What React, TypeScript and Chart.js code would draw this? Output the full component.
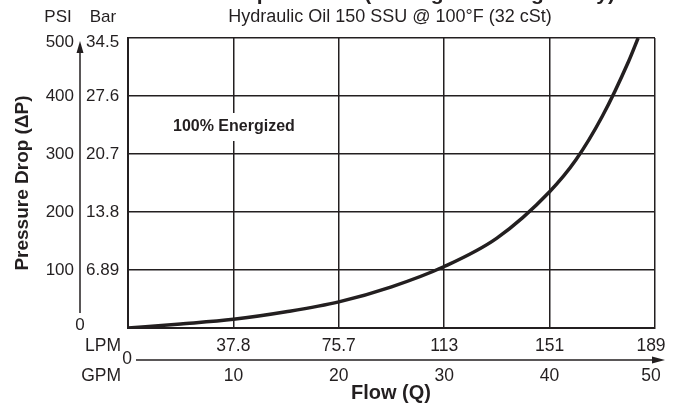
import React, { useEffect, useRef } from "react";
import { Chart, registerables } from "chart.js";

Chart.register(...registerables);

const flowGpm = [0, 5, 10, 15, 20, 25, 30, 35, 40, 42.5, 45, 47.5, 48.4];
const pressurePsi = [0, 7, 15, 28, 45, 71, 106, 155, 235, 290, 365, 460, 500];

const psiTicks = [0, 100, 200, 300, 400, 500];
const barTicks = ["", "6.89", "13.8", "20.7", "27.6", "34.5"];
const gpmTicks = [0, 10, 20, 30, 40, 50];
const gpmLabels = ["", "10", "20", "30", "40", "50"];
const lpmLabels = ["", "37.8", "75.7", "113", "151", "189"];

const titleText = "Pressure Drop vs. Flow (Through Cartridge Only)";
const subtitleText = "Hydraulic Oil 150 SSU @ 100°F (32 cSt)";
const noteText = "100% Energized";

const FONT = "'Liberation Sans', Arial, Helvetica, sans-serif";
const INK = "#231f20";

const labelsPlugin = {
  id: "labelsPlugin",
  afterDraw(chart: any) {
    const ctx = chart.ctx as CanvasRenderingContext2D;
    const xs = chart.scales.x;
    const ys = chart.scales.y;
    const area = chart.chartArea;
    ctx.save();
    ctx.fillStyle = INK;
    ctx.strokeStyle = INK;

    // Cut-off title at top
    ctx.font = `bold 21px ${FONT}`;
    ctx.textAlign = "center";
    ctx.textBaseline = "alphabetic";
    ctx.fillText(titleText, 370, 0);

    // Subtitle
    ctx.font = `18px ${FONT}`;
    ctx.textBaseline = "middle";
    ctx.fillText(subtitleText, 390, 17);

    // PSI / Bar headers
    ctx.font = `17px ${FONT}`;
    ctx.textAlign = "center";
    ctx.fillText("PSI", 58, 17);
    ctx.fillText("Bar", 103, 17);

    // Y tick labels
    psiTicks.forEach((v, i) => {
      const py = ys.getPixelForValue(v);
      const yy = i === psiTicks.length - 1 ? py + 4 : py;
      if (i === 0) {
        ctx.textAlign = "center";
        ctx.fillText(String(v), 80, py - 3);
      } else {
        ctx.textAlign = "right";
        ctx.fillText(String(v), 74, yy);
      }
      if (barTicks[i]) {
        ctx.textAlign = "left";
        ctx.fillText(barTicks[i], 86, yy);
      }
    });

    // Y arrow
    const ax = 80;
    ctx.lineWidth = 1.5;
    ctx.beginPath();
    ctx.moveTo(ax, ys.getPixelForValue(0) - 15);
    ctx.lineTo(ax, area.top + 12);
    ctx.stroke();
    ctx.beginPath();
    ctx.moveTo(ax, area.top + 3);
    ctx.lineTo(ax - 3.5, area.top + 15);
    ctx.lineTo(ax + 3.5, area.top + 15);
    ctx.closePath();
    ctx.fill();

    // Y title
    ctx.save();
    ctx.translate(23, 183);
    ctx.rotate(-Math.PI / 2);
    ctx.font = `bold 19px ${FONT}`;
    ctx.textAlign = "center";
    ctx.textBaseline = "middle";
    ctx.fillText("Pressure Drop (\u0394P)", 0, 0);
    ctx.restore();

    // Note with white background
    ctx.font = `bold 16px ${FONT}`;
    const nw = ctx.measureText(noteText).width;
    ctx.fillStyle = "#ffffff";
    ctx.fillRect(171, 113, nw + 5, 28);
    ctx.fillStyle = INK;
    ctx.textAlign = "left";
    ctx.textBaseline = "middle";
    ctx.fillText(noteText, 173, 127);

    // X labels
    ctx.font = `17.5px ${FONT}`;
    ctx.textAlign = "center";
    gpmTicks.forEach((v, i) => {
      const px = xs.getPixelForValue(v);
      const xx = i === gpmTicks.length - 1 ? px - 4 : px;
      if (lpmLabels[i]) ctx.fillText(lpmLabels[i], xx, 346);
      if (gpmLabels[i]) ctx.fillText(gpmLabels[i], xx, 376);
    });
    ctx.textAlign = "right";
    ctx.fillText("LPM", 121, 346);
    ctx.fillText("GPM", 121, 376);
    ctx.textAlign = "center";
    ctx.fillText("0", 127, 359);

    // X arrow
    const ay = 360;
    ctx.lineWidth = 1.5;
    ctx.beginPath();
    ctx.moveTo(136, ay);
    ctx.lineTo(656, ay);
    ctx.stroke();
    ctx.beginPath();
    ctx.moveTo(665, ay);
    ctx.lineTo(652, ay - 3.5);
    ctx.lineTo(652, ay + 3.5);
    ctx.closePath();
    ctx.fill();

    // X title
    ctx.font = `bold 20px ${FONT}`;
    ctx.textAlign = "center";
    ctx.fillText("Flow (Q)", 391, 393);

    ctx.restore();
  },
};

export default function App() {
  const ref = useRef<HTMLCanvasElement | null>(null);
  useEffect(() => {
    if (!ref.current) return;
    const chart = new Chart(ref.current, {
      type: "line",
      data: {
        datasets: [
          {
            data: flowGpm.map((x, i) => ({ x, y: pressurePsi[i] })),
            borderColor: INK,
            borderWidth: 3.5,
            pointRadius: 0,
            cubicInterpolationMode: "monotone",
            fill: false,
          },
        ],
      },
      options: {
        animation: false,
        responsive: false,
        events: [],
        layout: { padding: { left: 128, right: 22, top: 38, bottom: 76 } },
        plugins: { legend: { display: false }, tooltip: { enabled: false } },
        scales: {
          x: {
            type: "linear",
            min: 0,
            max: 50,
            ticks: { display: false, stepSize: 10 },
            grid: { color: INK, lineWidth: 1.5, drawTicks: false },
            border: { display: true, color: INK, width: 2 },
          },
          y: {
            type: "linear",
            min: 0,
            max: 500,
            ticks: { display: false, stepSize: 100 },
            grid: { color: INK, lineWidth: 1.5, drawTicks: false },
            border: { display: true, color: INK, width: 2 },
          },
        },
      },
      plugins: [labelsPlugin],
    });
    return () => chart.destroy();
  }, []);
  return (
    <div style={{ position: "absolute", left: 0, top: 0, width: 677, height: 404, background: "#fff" }}>
      <canvas ref={ref} width={677} height={404} style={{ display: "block" }} />
    </div>
  );
}
